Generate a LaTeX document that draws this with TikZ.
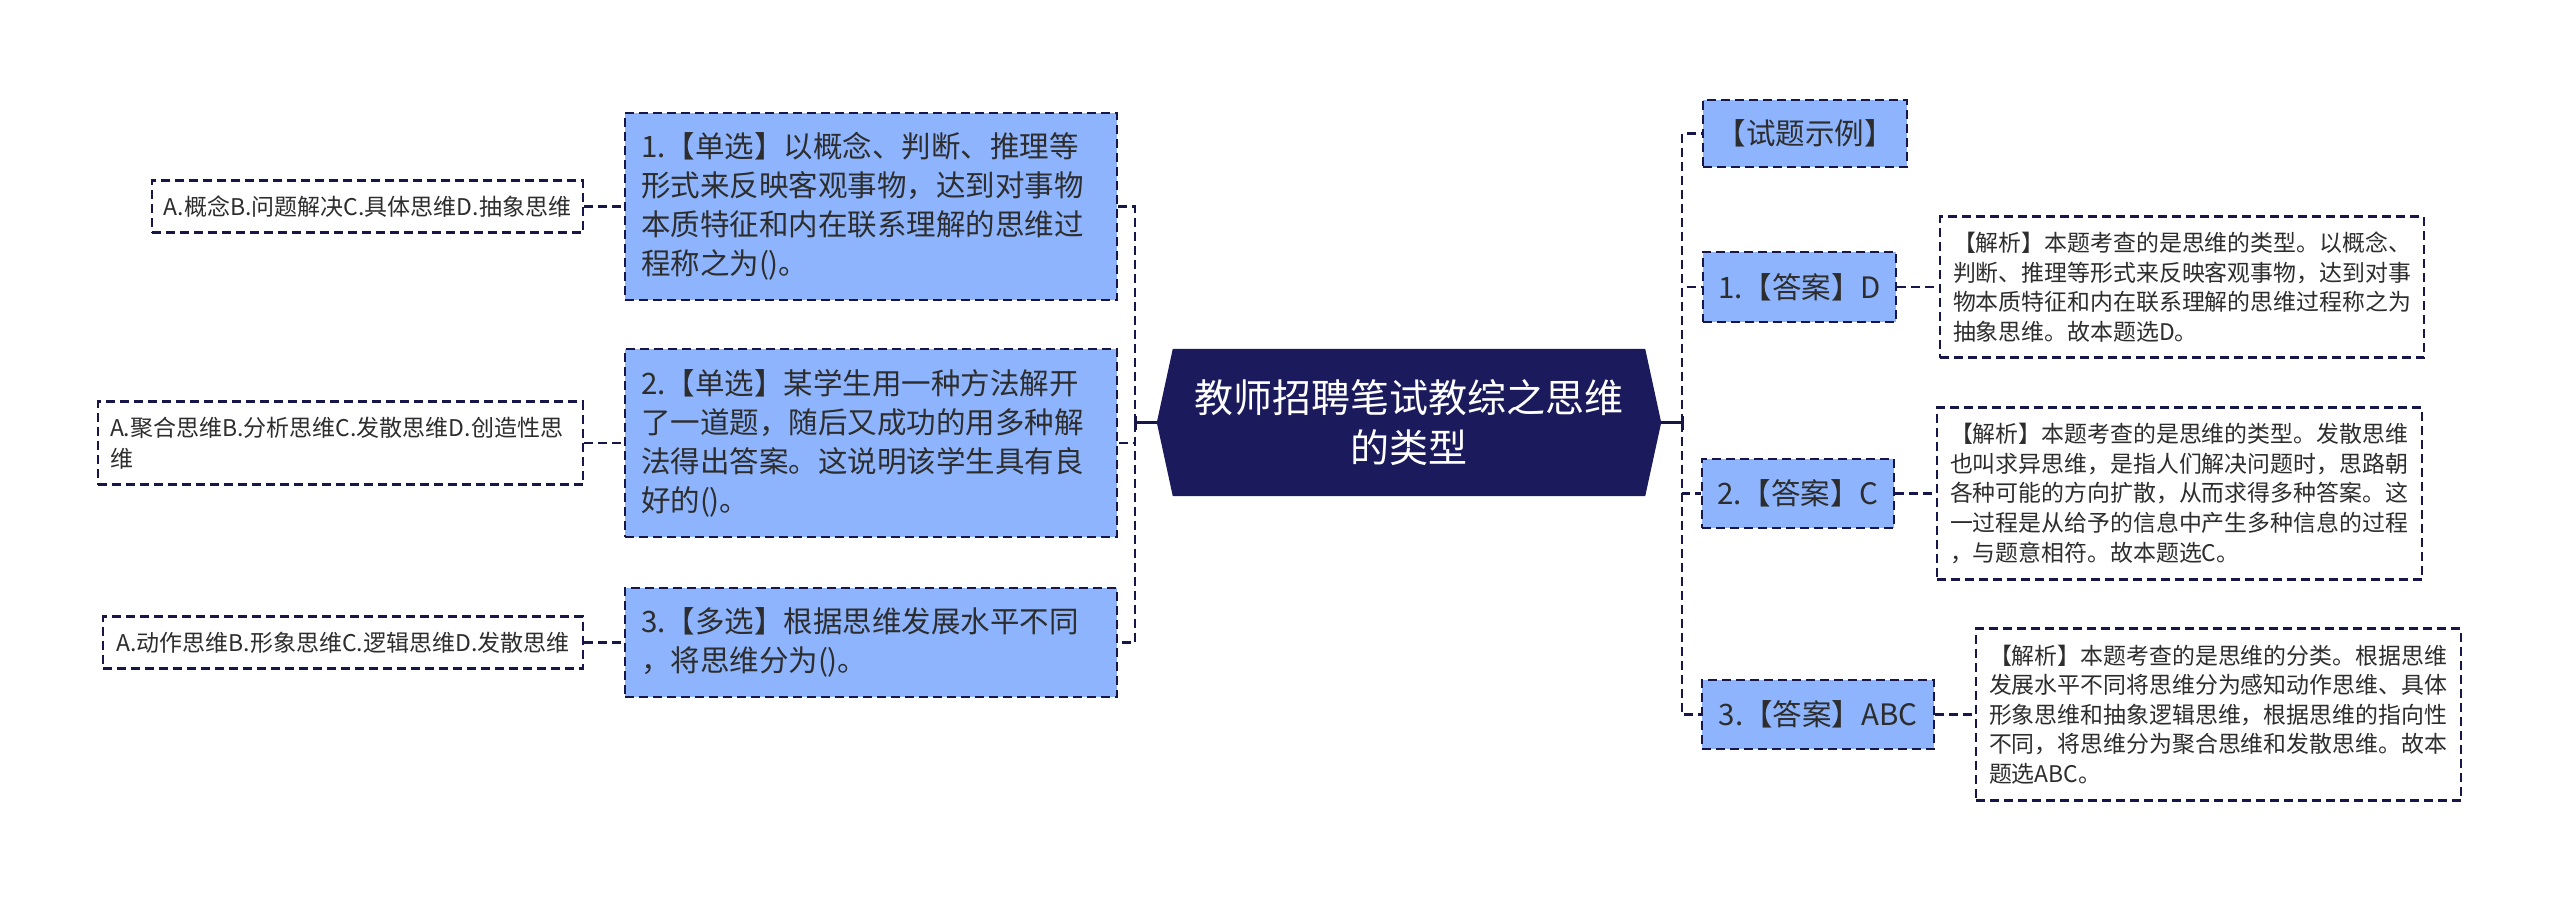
\documentclass[tikz,border=0pt]{standalone}
\usepackage{fontspec}
\setmainfont{Noto Sans CJK SC}
\usetikzlibrary{backgrounds}
\definecolor{navy}{RGB}{27,26,92}
\definecolor{linenavy}{RGB}{22,22,72}
\definecolor{boxblue}{RGB}{141,180,252}
\definecolor{txt}{RGB}{45,45,45}
\begin{document}
\begin{tikzpicture}[x=1pt,y=-1pt,
  dashedbox/.style={draw=linenavy, line width=2.4pt, dash pattern=on 9pt off 5pt},
  qbox/.style={dashedbox, fill=boxblue, text=txt, align=left, inner xsep=16pt, inner ysep=0pt,
    font=\fontsize{29.5}{39}\selectfont},
  abox/.style={dashedbox, fill=white, text=txt, inner xsep=12pt, inner ysep=0pt,
    font=\fontsize{23}{31}\selectfont},
  rbox/.style={dashedbox, fill=boxblue, text=txt, inner xsep=10pt, inner ysep=0pt,
    font=\fontsize{29.5}{39}\selectfont},
  ebox/.style={dashedbox, fill=white, text=txt, align=left, inner xsep=13pt, inner ysep=0pt,
    font=\fontsize{22.9}{29.6}\selectfont},
  conn/.style={draw=linenavy, line width=2.4pt, dash pattern=on 9pt off 5pt},
  mainconn/.style={draw=linenavy, line width=3pt}
]
\useasboundingbox (0,0) rectangle (2560,899);

% central node
\node[minimum width=504pt, minimum height=147pt, inner sep=0pt, text=white, align=center,
  font=\fontsize{39}{50}\selectfont] (c) at (1409,422.5) {教师招聘笔试教综之思维\\的类型};
\begin{scope}[on background layer]
\fill[navy] ([xshift=16pt]c.north west) -- ([xshift=-16pt]c.north east) -- (c.east)
  -- ([xshift=-16pt]c.south east) -- ([xshift=16pt]c.south west) -- (c.west) -- cycle;
\end{scope}

% left questions
\node[qbox, text width=460pt, minimum height=187pt] (q1) at (871,206.5)
  {1.【单选】以概念、判断、推理等\\形式来反映客观事物，达到对事物\\本质特征和内在联系理解的思维过\\程称之为()。};
\node[qbox, text width=460pt, minimum height=188pt] (q2) at (871,443)
  {2.【单选】某学生用一种方法解开\\了一道题，随后又成功的用多种解\\法得出答案。这说明该学生具有良\\好的()。};
\node[qbox, text width=460pt, minimum height=109pt] (q3) at (871,642.5)
  {3.【多选】根据思维发展水平不同\\，将思维分为()。};

% left answers
\node[abox, minimum width=431pt, minimum height=52pt] (a1) at (367.5,206.5)
  {A.概念B.问题解决C.具体思维D.抽象思维};
\node[abox, align=left, text width=461pt, minimum height=83pt] (a2) at (340.5,443)
  {A.聚合思维B.分析思维C.发散思维D.创造性思\\维};
\node[abox, minimum width=480pt, minimum height=52pt] (a3) at (343,642.5)
  {A.动作思维B.形象思维C.逻辑思维D.发散思维};

% right answers
\node[rbox, minimum width=204pt, minimum height=67pt] (t0) at (1805,133.5) {【试题示例】};
\node[rbox, minimum width=193pt, minimum height=70pt] (r1) at (1799.5,287) {1.【答案】D};
\node[rbox, minimum width=192pt, minimum height=69pt] (r2) at (1798,493.5) {2.【答案】C};
\node[rbox, minimum width=232pt, minimum height=69pt] (r3) at (1818,714.5) {3.【答案】ABC};

% explanations
\node[ebox, text width=458pt, minimum height=141pt] (e1) at (2182,287)
  {【解析】本题考查的是思维的类型。以概念、\\判断、推理等形式来反映客观事物，达到对事\\物本质特征和内在联系理解的思维过程称之为\\抽象思维。故本题选D。};
\node[ebox, text width=459pt, minimum height=172pt] (e2) at (2179.5,493.5)
  {【解析】本题考查的是思维的类型。发散思维\\也叫求异思维，是指人们解决问题时，思路朝\\各种可能的方向扩散，从而求得多种答案。这\\一过程是从给予的信息中产生多种信息的过程\\，与题意相符。故本题选C。};
\node[ebox, text width=459pt, minimum height=172pt] (e3) at (2218.5,714.5)
  {【解析】本题考查的是思维的分类。根据思维\\发展水平不同将思维分为感知动作思维、具体\\形象思维和抽象逻辑思维，根据思维的指向性\\不同，将思维分为聚合思维和发散思维。故本\\题选ABC。};

% buses
\coordinate (lbus) at (1135,422.5);
\coordinate (rbus) at (1682,422.5);

\draw[mainconn] (c.west) -- (lbus);
\draw[mainconn] (c.east) -- (rbus);
\draw[mainconn] ([yshift=-7pt]lbus) -- ([yshift=7pt]lbus);
\draw[mainconn] ([yshift=-7pt]rbus) -- ([yshift=7pt]rbus);

\draw[conn] (lbus) |- (q1.east);
\draw[conn] (lbus) |- (q2.east);
\draw[conn] (lbus) |- (q3.east);

\draw[conn] (rbus) |- (t0.west);
\draw[conn] (rbus) |- (r1.west);
\draw[conn] (rbus) |- (r2.west);
\draw[conn] (rbus) |- (r3.west);

\draw[conn] (a1.east) -- (q1.west);
\draw[conn] (a2.east) -- (q2.west);
\draw[conn] (a3.east) -- (q3.west);

\draw[conn] (r1.east) -- (e1.west);
\draw[conn] (r2.east) -- (e2.west);
\draw[conn] (r3.east) -- (e3.west);
\end{tikzpicture}
\end{document}
